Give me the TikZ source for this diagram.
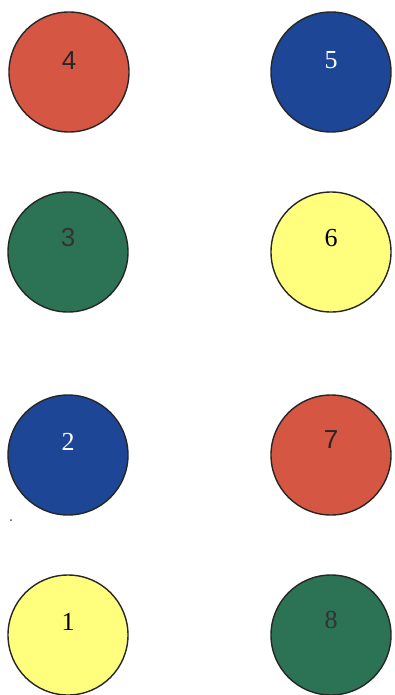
\documentclass[tikz,border=0pt]{standalone}
\usepackage{fontspec}
\setmainfont{Liberation Serif}
\newfontfamily\numsans{Liberation Sans}
\definecolor{cred}{RGB}{214,86,68}
\definecolor{cblue}{RGB}{30,70,150}
\definecolor{cgreen}{RGB}{44,114,84}
\definecolor{cyellow}{RGB}{255,255,125}
\begin{document}
\begin{tikzpicture}[x=1pt,y=-1pt,
  disc/.style={circle,draw=black!85,line width=1.4pt,minimum size=120pt,inner sep=0pt},
  lbl/.style={font=\fontsize{26}{26}\selectfont}]
\useasboundingbox (0,0) rectangle (394,695);
\fill[white] (0,0) rectangle (394,695);
% left column
\node[disc,fill=cred]    (c4) at (69,72)  {};
\node[disc,fill=cgreen]  (c3) at (68,252) {};
\node[disc,fill=cblue]   (c2) at (68,455) {};
\node[disc,fill=cyellow] (c1) at (68,635) {};
% right column
\node[disc,fill=cblue]   (c5) at (331,72)  {};
\node[disc,fill=cyellow] (c6) at (331,252) {};
\node[disc,fill=cred]    (c7) at (331,455) {};
\node[disc,fill=cgreen]  (c8) at (331,635) {};
% labels
\node[lbl,text=black!85] (t4) at ([yshift=11pt]c4.center) {\numsans 4};
\node[lbl,text=black!80] (t3) at ([yshift=14pt]c3.center) {\numsans 3};
\node[lbl,text=white]    (t2) at ([yshift=13pt]c2.center) {2};
\node[lbl,text=black]    (t1) at ([yshift=13pt]c1.center) {1};
\node[lbl,text=white]    (t5) at ([yshift=12pt]c5.center) {5};
\node[lbl,text=black]    (t6) at ([yshift=14pt]c6.center) {6};
\node[lbl,text=black!85] (t7) at ([yshift=15pt]c7.center) {\numsans 7};
\node[lbl,text=black!80] (t8) at ([yshift=15pt]c8.center) {8};
% stray dot
\fill[black!70] (11,520) circle (1pt);
\end{tikzpicture}
\end{document}
